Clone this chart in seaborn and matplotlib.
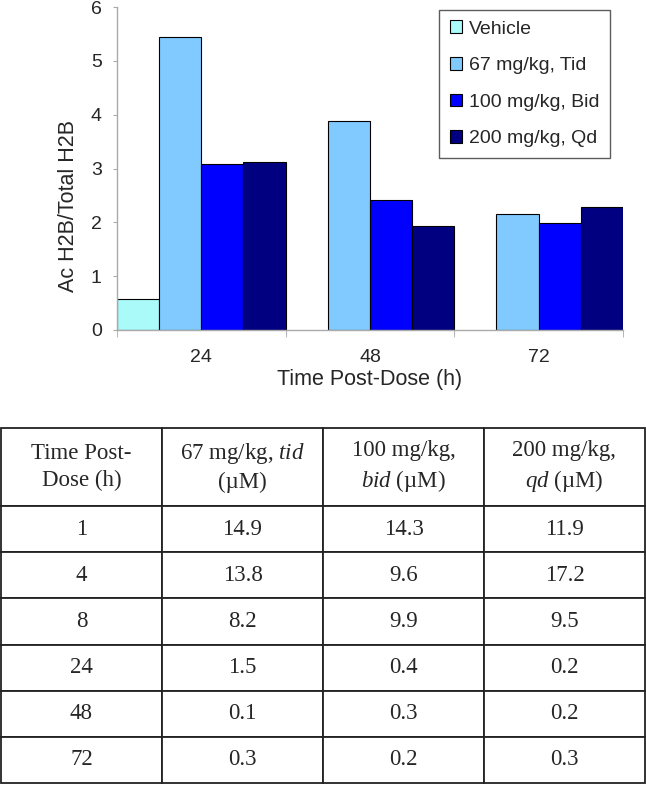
import numpy as np
import pandas as pd
import matplotlib
matplotlib.use('Agg')
import matplotlib.pyplot as plt
import seaborn as sns

# bar chart data
times = ['24', '48', '72']
groups = ['Vehicle', '67 mg/kg, Tid', '100 mg/kg, Bid', '200 mg/kg, Qd']
vehicle = [0.58, np.nan, np.nan]
tid67 = [5.44, 3.89, 2.16]
bid100 = [3.09, 2.42, 1.99]
qd200 = [3.13, 1.93, 2.29]
colors = ['#aafafa', '#80caff', '#0000ff', '#000080']

# table data
tab_header = ['Time Post-\nDose (h)', '67 mg/kg, $\\mathit{tid}$\n(\u00b5M)',
              '100 mg/kg,\n$\\mathit{bid}$ (\u00b5M)', '200 mg/kg,\n$\\mathit{qd}$ (\u00b5M)']
tab_time = ['1', '4', '8', '24', '48', '72']
tab_tid = ['14.9', '13.8', '8.2', '1.5', '0.1', '0.3']
tab_bid = ['14.3', '9.6', '9.9', '0.4', '0.3', '0.2']
tab_qd = ['11.9', '17.2', '9.5', '0.2', '0.2', '0.3']

sns.set_style('white')
plt.rcParams['font.family'] = ['Liberation Sans', 'DejaVu Sans']
plt.rcParams['mathtext.fontset'] = 'custom'
plt.rcParams['mathtext.it'] = 'Liberation Serif:italic'
plt.rcParams['mathtext.rm'] = 'Liberation Serif'

df = pd.DataFrame({
    'time': times * 4,
    'group': np.repeat(groups, 3),
    'value': vehicle + tid67 + bid100 + qd200,
})

fig = plt.figure(figsize=(6.46, 7.85), dpi=100)
ax = fig.add_axes([117/646, 1-330/785, 506/646, 323/785])

sns.barplot(data=df, x='time', y='value', hue='group', order=times, hue_order=groups,
            palette=colors, width=1.0, gap=0, edgecolor='black', linewidth=0.8,
            saturation=1, ax=ax, legend=True)

ax.set_xlim(-0.5, 2.5)
ax.set_ylim(0, 6)
ax.set_yticks(range(7))
ax.set_xticks([-0.5, 0.5, 1.5, 2.5], minor=True)
ax.tick_params(axis='x', which='major', length=0, pad=14, labelsize=14)
ax.tick_params(axis='x', which='minor', length=5, color='#aaaaaa', direction='out', bottom=True)
ax.tick_params(axis='y', length=3, color='#aaaaaa', direction='out', left=True, pad=8, labelsize=14)
for s in ['top', 'right']:
    ax.spines[s].set_visible(False)
for s in ['left', 'bottom']:
    ax.spines[s].set_color('#aaaaaa')
    ax.spines[s].set_linewidth(1)

ax.set_xlabel('Time Post-Dose (h)', fontsize=15.5, labelpad=2)
ax.set_ylabel('Ac H2B/Total H2B', fontsize=15.5)
ax.yaxis.set_label_coords(-0.075, 0.384)

ax.legend_.remove()
handles = [plt.Rectangle((0, 0), 1, 1, facecolor=c, edgecolor='black', linewidth=0.8) for c in colors]
leg = fig.legend(handles, groups, loc='upper left', bbox_to_anchor=(439/646, 1-9.7/785),
                 fontsize=14, frameon=True, fancybox=False, borderaxespad=0,
                 handlelength=0.62, handleheight=0.62, handletextpad=0.35,
                 labelspacing=1.0, borderpad=0.55)
leg.get_frame().set_edgecolor('#333333')
leg.get_frame().set_linewidth(1)

# table
tax = fig.add_axes([1/646, 1-783/785, 644/646, 355/785])
tax.axis('off')
cells = [list(r) for r in zip(tab_time, tab_tid, tab_bid, tab_qd)]
tbl = tax.table(cellText=cells, colLabels=tab_header, cellLoc='center',
                bbox=[0, 0, 1, 1])
tbl.auto_set_font_size(False)
for (r, c), cell in tbl.get_celld().items():
    cell.set_height(78 if r == 0 else 46)
    cell.set_edgecolor('#222222')
    cell.set_linewidth(1.3)
    t = cell.get_text()
    t.set_fontfamily('Liberation Serif')
    t.set_fontsize(16.5)
    t.set_linespacing(1.35)

fig.savefig('out.png', dpi=100)
